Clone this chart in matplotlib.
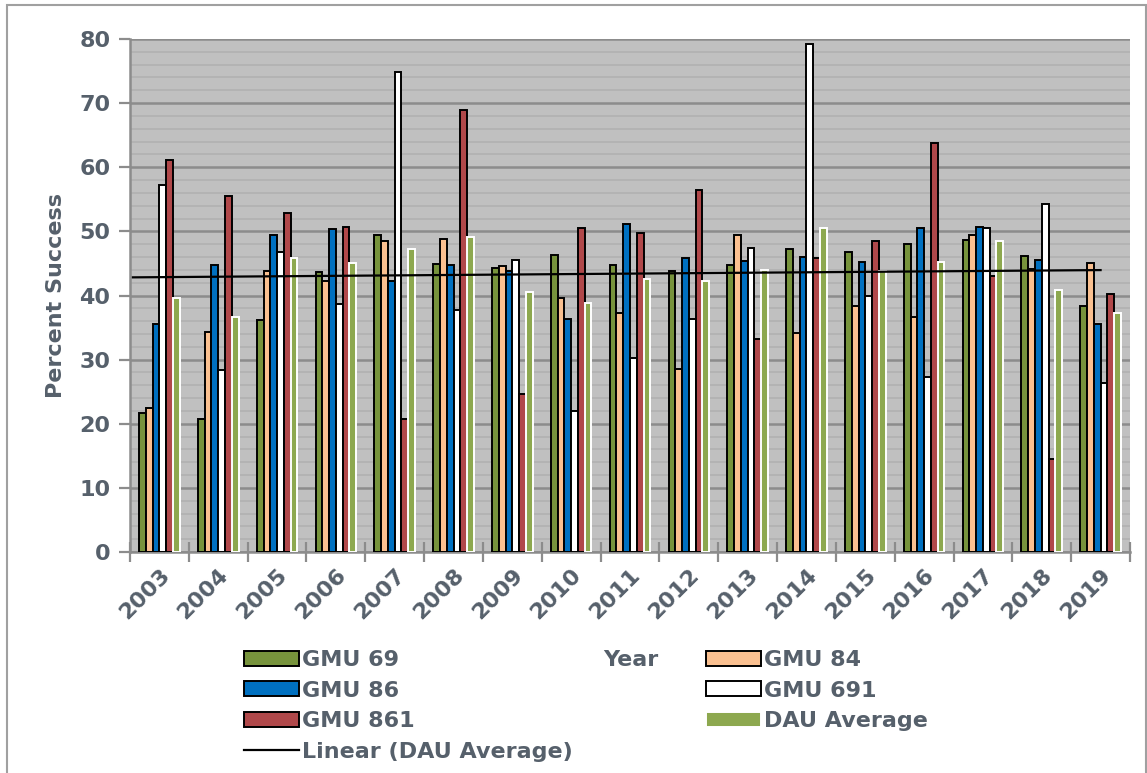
import matplotlib
matplotlib.use("Agg")
import matplotlib.pyplot as plt
import numpy as np
from matplotlib.patches import Patch, Rectangle
from matplotlib.lines import Line2D
from matplotlib.ticker import MultipleLocator, FixedLocator

years = [str(y) for y in range(2003, 2020)]
gmu69 = [21.6, 20.8, 36.2, 43.6, 49.5, 44.9, 44.3, 46.3, 44.8, 43.8, 44.7, 47.3, 46.8, 48.0, 48.7, 46.1, 38.3]
gmu84 = [22.4, 34.3, 43.8, 42.2, 48.5, 48.8, 44.6, 39.6, 37.3, 28.6, 49.5, 34.2, 38.4, 36.7, 49.4, 44.2, 45.0]
gmu86 = [35.5, 44.7, 49.4, 50.3, 42.2, 44.7, 43.8, 36.4, 51.1, 45.8, 45.4, 46.0, 45.3, 50.5, 50.7, 45.5, 35.6]
gmu691 = [57.3, 28.4, 46.8, 38.7, 74.9, 37.7, 45.6, 22.0, 30.2, 36.3, 47.4, 79.2, 39.9, 27.3, 50.5, 54.2, 26.4]
gmu861 = [61.2, 55.5, 52.8, 50.7, 20.7, 69.0, 24.6, 50.5, 49.8, 56.5, 33.2, 45.8, 48.5, 63.8, 43.0, 14.5, 40.2]
dau_avg = [39.6, 36.7, 45.8, 45.1, 47.2, 49.1, 40.6, 38.9, 42.6, 42.2, 44.0, 50.5, 43.8, 45.3, 48.5, 40.9, 37.2]

series = [
    ("GMU 69", gmu69, "#77933C", "black"),
    ("GMU 84", gmu84, "#FAC090", "black"),
    ("GMU 86", gmu86, "#0070C0", "black"),
    ("GMU 691", gmu691, "#FFFFFF", "black"),
    ("GMU 861", gmu861, "#B0484A", "black"),
    ("DAU Average", dau_avg, "#8DA84F", "white"),
]

txt = "#56606B"
axcol = "#8C8C8C"
plt.rcParams['font.family'] = ['DejaVu Sans']
plt.rcParams['font.weight'] = 'bold'

fig = plt.figure(figsize=(11.47, 7.73), dpi=100)
ax = fig.add_axes([130/1147, 1-552/773, 1000/1147, 513/773])
ax.set_facecolor("#C0C0C0")

x = np.arange(len(years))
w = 0.115
handles = {}
for i, (name, vals, col, ec) in enumerate(series):
    off = (i - 2.5) * w
    ax.bar(x + off, vals, width=w, color=col, edgecolor=ec, linewidth=1.4, zorder=3)
    handles[name] = Patch(facecolor=col, edgecolor=ec, linewidth=1.4)

coef = np.polyfit(x, dau_avg, 1)
xl = np.array([-0.45, 16.0])
ax.plot(xl, np.polyval(coef, xl), color="black", linewidth=1.6, zorder=4)
handles["Linear (DAU Average)"] = Line2D([], [], color="black", linewidth=1.6)

ax.set_xlim(-0.5, 16.5)
ax.set_ylim(0, 80)
ax.yaxis.set_major_locator(MultipleLocator(10))
ax.yaxis.set_minor_locator(MultipleLocator(2))
ax.grid(which="major", axis="y", color=axcol, linewidth=1.8, zorder=1)
ax.grid(which="minor", axis="y", color="#B2B2B2", linewidth=1.3, zorder=0)
ax.set_xticks(x)
ax.set_xticklabels(years, rotation=45, ha="right", rotation_mode="anchor",
                   fontsize=16, fontweight="bold", color=txt)
ax.xaxis.set_minor_locator(FixedLocator(np.arange(-0.5, 17, 1)))
ax.tick_params(axis="x", which="major", length=0, pad=9)
ax.tick_params(axis="x", which="minor", length=14, width=1.6, color=axcol, direction="inout")
ax.tick_params(axis="y", which="major", length=8, width=1.6, color=axcol,
               labelsize=16, labelcolor=txt, pad=6)
ax.tick_params(axis="y", which="minor", length=0)
for lab in ax.get_yticklabels():
    lab.set_fontweight("bold")
for s in ["top", "right"]:
    ax.spines[s].set_visible(False)
for s in ["left", "bottom"]:
    ax.spines[s].set_color(axcol)
    ax.spines[s].set_linewidth(1.8)
ax.set_axisbelow(True)

ax.set_ylabel("Percent Success", fontsize=16, fontweight="bold", color=txt, labelpad=10)

fig.text(631/1147, 1-660/773, "Year", fontsize=16, fontweight="bold", color=txt,
         ha="center", va="center")

order = ["GMU 69", "GMU 86", "GMU 861", "Linear (DAU Average)",
         "GMU 84", "GMU 691", "DAU Average"]
leg = fig.legend([handles[k] for k in order], order, ncol=2,
                 loc="upper left", bbox_to_anchor=(235/1147, 1-641/773),
                 frameon=False, prop={"size": 16, "weight": "bold"},
                 handlelength=2.5, handleheight=0.65, handletextpad=0.1,
                 labelspacing=0.48, columnspacing=6.0, borderaxespad=0)
for t in leg.get_texts():
    t.set_color(txt)

fig.patches.append(Rectangle((7/1147, -0.01), 1139/1147, 1 - 5/773 + 0.01,
                             transform=fig.transFigure, fill=False,
                             edgecolor="#A0A0A0", linewidth=1.5))

fig.savefig("out.png", dpi=100)
